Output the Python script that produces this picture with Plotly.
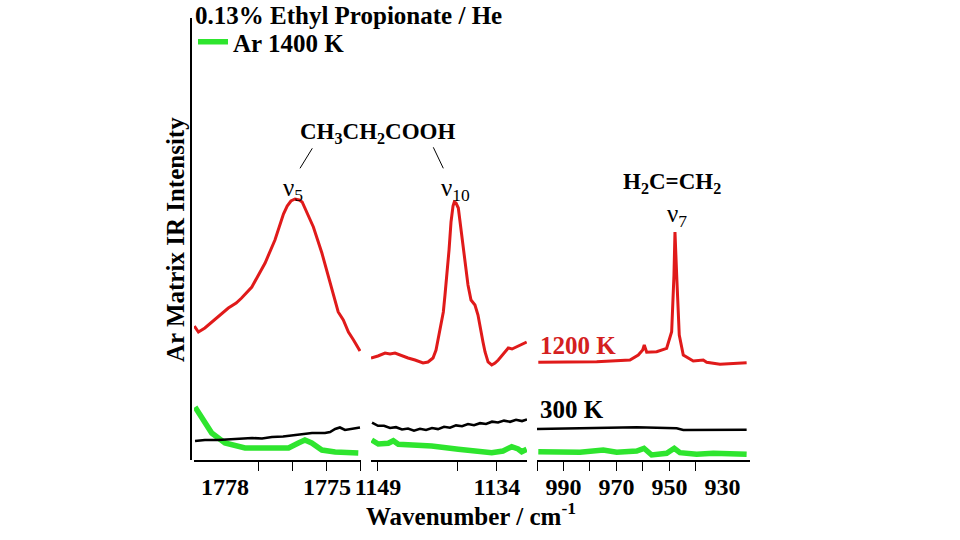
import plotly.graph_objects as go

# ---------------- data (arbitrary intensity units) ----------------
# Panel 1 : ~1779-1774 cm-1
p1_red_x = [1778.90, 1778.78, 1778.59, 1778.38, 1778.20, 1777.90, 1777.67, 1777.51, 1777.21, 1776.82,
            1776.53, 1776.38, 1776.28, 1776.17, 1776.06, 1775.94, 1775.82, 1775.73, 1775.60, 1775.40,
            1775.15, 1774.86, 1774.67, 1774.52, 1774.37, 1774.22, 1774.03]
p1_red_y = [134, 128, 132, 138, 143, 152, 157, 162, 173, 197,
            220, 235, 246, 254, 259, 261, 260, 258, 248, 233,
            207, 172, 148, 140, 128, 120, 109]
p1_blk_x = [1778.88, 1778.59, 1778.20, 1777.70, 1777.20, 1776.91, 1776.62, 1776.29, 1775.94, 1775.65,
            1775.44, 1775.06, 1774.91, 1774.76, 1774.62, 1774.47, 1774.26, 1774.03]
p1_blk_y = [19, 20, 20, 21, 22, 21.5, 23, 23.5, 25, 25.5, 27, 27, 28, 31, 32.5, 30, 31, 32.5]
p1_grn_x = [1778.88, 1778.68, 1778.39, 1778.00, 1777.41, 1776.82, 1776.13, 1775.84, 1775.65, 1775.45,
            1775.15, 1774.76, 1774.08]
p1_grn_y = [53, 42, 27, 17, 12, 12, 12, 17, 20, 17, 10, 8, 7]

# Panel 2 : ~1150-1130 cm-1
p2_red_x = [1149.88, 1149.00, 1148.11, 1147.48, 1146.85, 1145.97, 1145.21, 1144.33, 1143.32, 1142.69,
            1142.06, 1141.68, 1141.39, 1141.05, 1140.76, 1140.55, 1140.33, 1140.04, 1139.79, 1139.54,
            1139.38, 1139.16, 1138.87, 1138.53, 1138.03, 1137.65, 1137.27, 1136.77, 1136.39, 1136.13,
            1135.76, 1135.50, 1135.12, 1134.66, 1134.24, 1133.83, 1133.23, 1132.57, 1132.10, 1131.51,
            1130.96, 1130.25]
p2_red_y = [102, 104, 107, 106, 107, 104, 102, 100, 97, 98,
            102, 110, 122, 135, 148, 165, 182, 210, 238, 254,
            258, 257, 252, 230, 198, 175, 160, 155, 145, 132,
            118, 108, 98, 95, 97, 100, 106, 112, 111, 113,
            115, 118]
p2_blk_x = [1149.75, 1149.00, 1148.24, 1147.48, 1146.73, 1145.97, 1145.21, 1144.46, 1143.70, 1142.94,
            1142.19, 1141.43, 1140.67, 1139.92, 1139.16, 1138.40, 1137.65, 1136.89, 1136.13, 1135.38,
            1134.62, 1133.86, 1133.11, 1132.35, 1131.59, 1130.84, 1130.21]
p2_blk_y = [37.4, 34.2, 34.3, 32.0, 32.8, 30.5, 31.5, 29.3, 31.2, 30.0,
            32.0, 30.9, 33.2, 32.3, 34.6, 33.8, 36.0, 34.8, 36.8, 36.0,
            38.3, 37.5, 39.4, 38.2, 40.2, 38.9, 40.5]
p2_grn_x = [1149.79, 1148.96, 1147.70, 1147.07, 1146.43, 1142.23, 1138.87, 1134.66, 1133.23, 1132.14,
            1131.34, 1130.88, 1130.25]
p2_grn_y = [20, 16, 16.7, 19.3, 15.7, 14, 10.7, 7.3, 9, 13.3, 11, 8.3, 10.7]

# Panel 3 : ~1000-920 cm-1
p3_red_x = [999.51, 990.08, 977.47, 964.91, 961.77, 960.11, 959.51, 958.60, 954.83, 951.06,
            949.17, 948.30, 947.92, 947.28, 946.30, 944.79, 941.02, 937.25, 935.96, 930.94, 920.87]
p3_red_y = [97.7, 97.7, 98.3, 100, 105, 110, 115, 107.7, 108.3, 111.7,
            128.3, 185, 228, 185, 125, 105, 99, 100, 97.7, 95.7, 97.3]
p3_blk_x = [1000.0, 977.47, 962.38, 947.28, 944.79, 920.87]
p3_blk_y = [31, 31.7, 32.7, 31.7, 30, 30.3]
p3_grn_x = [999.51, 983.77, 974.98, 969.92, 962.38, 959.62, 956.72, 951.06, 948.19, 946.04,
            939.74, 933.47, 920.87]
p3_grn_y = [8.3, 7.7, 10, 7.7, 9, 11.7, 5, 6.7, 11.7, 7.3, 5.7, 6.7, 5.7]

# axis ranges / ticks
x1_range = [1778.91, 1774.0]
x2_range = [1149.88, 1130.21]
x3_range = [1000.0, 919.6]
x1_labels = [1778, 1775]
x2_labels = [1149, 1134]
x3_labels = [990, 970, 950, 930]
x1_ticks = [1777, 1776, 1775, 1774]
x2_ticks = [1149, 1139, 1134]
x3_ticks = [1000, 990, 980, 970, 960, 950, 940]
y_range = [0, 442]

RED = "#e01a1a"
GRN = "#2ee52e"
BLK = "#000000"
FONT = "Liberation Serif"

fig = go.Figure()
panels = [("x", p1_red_x, p1_red_y, p1_blk_x, p1_blk_y, p1_grn_x, p1_grn_y),
          ("x2", p2_red_x, p2_red_y, p2_blk_x, p2_blk_y, p2_grn_x, p2_grn_y),
          ("x3", p3_red_x, p3_red_y, p3_blk_x, p3_blk_y, p3_grn_x, p3_grn_y)]
for i, (xa, rx, ry, bx, by, gx, gy) in enumerate(panels):
    fig.add_trace(go.Scatter(x=gx, y=gy, xaxis=xa, yaxis="y", mode="lines",
                             line=dict(color=GRN, width=5.5), name="Ar 1400 K",
                             showlegend=(i == 0), legendgroup="g"))
    fig.add_trace(go.Scatter(x=bx, y=by, xaxis=xa, yaxis="y", mode="lines",
                             line=dict(color=BLK, width=2.6), showlegend=False))
    fig.add_trace(go.Scatter(x=rx, y=ry, xaxis=xa, yaxis="y", mode="lines",
                             line=dict(color=RED, width=3), showlegend=False))

W, H = 960, 540
MT, MB = 18, 80
PH = H - MT - MB  # 442


def py(px):
    """pixel row -> paper y"""
    return (H - MB - px) / PH


def xaxis(dom, rng, labels, ticks):
    return dict(domain=[dom[0] / W, dom[1] / W], range=rng, anchor="y",
                showline=True, linecolor="black", linewidth=1.5, showgrid=False, zeroline=False,
                automargin=False,
                tickmode="array", tickvals=labels, ticktext=[str(v) for v in labels],
                ticks="outside", ticklen=4, tickcolor="rgba(0,0,0,0)",
                tickfont=dict(family=FONT, size=24, color="black", weight="bold"),
                minor=dict(tickmode="array", tickvals=[t + 1e-3 for t in ticks], ticks="outside",
                           ticklen=9, tickwidth=1.3, tickcolor="black", showgrid=False))


fig.update_layout(
    width=W, height=H, margin=dict(l=0, r=0, t=MT, b=MB, autoexpand=False),
    paper_bgcolor="white", plot_bgcolor="white",
    xaxis=xaxis((194, 361), x1_range, x1_labels, x1_ticks),
    xaxis2=xaxis((371, 527), x2_range, x2_labels, x2_ticks),
    xaxis3=xaxis((537, 750), x3_range, x3_labels, x3_ticks),
    yaxis=dict(range=y_range, anchor="free", position=191 / W, showline=True, linecolor="black",
               linewidth=1.5, showticklabels=False, ticks="", showgrid=False, zeroline=False,
               automargin=False),
    legend=dict(x=193 / W, y=py(19), xanchor="left", yanchor="top",
                font=dict(family=FONT, size=25, color="black", weight="bold"),
                bgcolor="rgba(0,0,0,0)", itemwidth=30, tracegroupgap=0),
    showlegend=True,
)

ann_font = dict(family=FONT, size=25, color="black", weight="bold")
fig.add_annotation(text="0.13% Ethyl Propionate / He", xref="paper", yref="paper",
                   x=193 / W, y=py(15), xanchor="left", yanchor="middle",
                   showarrow=False, font=ann_font)
fig.add_annotation(text="Ar Matrix IR Intensity", xref="paper", yref="paper",
                   x=175 / W, y=py(240), xanchor="center", yanchor="middle",
                   textangle=-90, showarrow=False, font=ann_font)
fig.add_annotation(text="Wavenumber / cm<sup>-1</sup>", xref="paper", yref="paper",
                   x=471 / W, y=py(514), xanchor="center", yanchor="middle",
                   showarrow=False, font=ann_font)
fig.add_annotation(text="CH<sub>3</sub>CH<sub>2</sub>COOH", xref="paper", yref="paper",
                   x=377 / W, y=py(133), xanchor="center", yanchor="middle", showarrow=False,
                   font=dict(family=FONT, size=23, color="black", weight="bold"))
fig.add_annotation(text="H<sub>2</sub>C=CH<sub>2</sub>", xref="x3", yref="y",
                   x=949.1, y=277, showarrow=False,
                   font=dict(family=FONT, size=23, color="black", weight="bold"))
nu_font = dict(family=FONT, size=25, color="black")
fig.add_annotation(text="ν<sub>5</sub>", xref="x", yref="y", x=1776.0, y=271, showarrow=False, font=nu_font)
fig.add_annotation(text="ν<sub>10</sub>", xref="x2", yref="y", x=1139.2, y=271, showarrow=False, font=nu_font)
fig.add_annotation(text="ν<sub>7</sub>", xref="x3", yref="y", x=947.2, y=245, showarrow=False, font=nu_font)
fig.add_annotation(text="1200 K", xref="x3", yref="y", x=999.6, y=115, xanchor="left",
                   showarrow=False, font=dict(family=FONT, size=25, color="#d42020", weight="bold"))
fig.add_annotation(text="300 K", xref="x3", yref="y", x=999.6, y=51, xanchor="left",
                   showarrow=False, font=ann_font)

# leader lines from the molecule label
for (xa, ya, xb, yb) in [(312.3, 148.3, 300, 168.3), (433.3, 147.3, 443.3, 168.3)]:
    fig.add_shape(type="line", xref="paper", yref="paper",
                  x0=xa / W, y0=py(ya), x1=xb / W, y1=py(yb),
                  line=dict(color="black", width=1))

fig.write_html("out.html", config={"displayModeBar": False},
               post_script="document.body.style.margin='0px';document.body.style.overflow='hidden';")
